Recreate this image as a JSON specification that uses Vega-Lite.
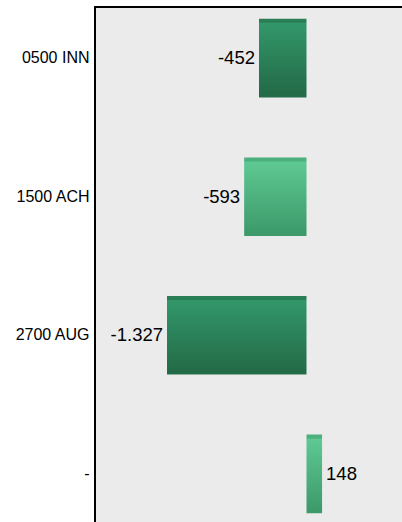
{
  "$schema": "https://vega.github.io/schema/vega-lite/v6.json",
  "autosize": {"type": "none"},
  "padding": {"left": 95, "top": 7, "right": 0, "bottom": 0},
  "width": 310,
  "height": 518,
  "background": "white",
  "config": {
    "font": "Liberation Sans",
    "view": {"fill": "#ebebeb", "stroke": "black", "strokeWidth": 2},
    "locale": {"number": {"decimal": ",", "thousands": ".", "grouping": [3], "currency": ["", " €"], "minus": "-"}}
  },
  "data": {"values": [
    {"label": "0500 INN", "value": -452},
    {"label": "1500 ACH", "value": -593},
    {"label": "2700 AUG", "value": -1327},
    {"label": "-", "value": 148}
  ]},
  "encoding": {
    "y": {"field": "label", "type": "nominal", "sort": null,
      "scale": {"domain": ["0500 INN", "1500 ACH", "2700 AUG", "-"], "paddingInner": 0.433, "paddingOuter": 0.085},
      "axis": {"title": null, "ticks": false, "domain": false, "labelFontSize": 16, "labelColor": "black", "labelPadding": 6, "labelFont": "Liberation Sans"}},
    "x": {"field": "value", "type": "quantitative",
      "scale": {"domain": [-2012, 937], "nice": false, "zero": false},
      "axis": null}
  },
  "layer": [
    {"transform": [{"filter": "datum.label === '0500 INN' || datum.label === '2700 AUG'"}],
     "mark": {"type": "bar",
       "color": {"gradient": "linear", "x1": 0, "y1": 0, "x2": 0, "y2": 1,
         "stops": [{"offset": 0, "color": "#2a7e55"}, {"offset": 0.045, "color": "#2a7e55"}, {"offset": 0.055, "color": "#32976a"}, {"offset": 0.97, "color": "#236a47"}, {"offset": 1, "color": "#276f4b"}]}},
     "encoding": {"x2": {"datum": 0}}},
    {"transform": [{"filter": "datum.label === '1500 ACH' || datum.label === '-'"}],
     "mark": {"type": "bar",
       "color": {"gradient": "linear", "x1": 0, "y1": 0, "x2": 0, "y2": 1,
         "stops": [{"offset": 0, "color": "#4caf7e"}, {"offset": 0.045, "color": "#4caf7e"}, {"offset": 0.06, "color": "#5ec892"}, {"offset": 0.97, "color": "#3c9a6a"}, {"offset": 1, "color": "#3f9d6c"}]}},
     "encoding": {"x2": {"datum": 0}}},
    {"transform": [{"filter": "datum.value < 0"}],
     "mark": {"type": "text", "align": "right", "dx": -4, "fontSize": 18.5, "color": "black", "baseline": "middle"},
     "encoding": {"text": {"field": "value", "type": "quantitative", "format": ",d"}}},
    {"transform": [{"filter": "datum.value >= 0"}],
     "mark": {"type": "text", "align": "left", "dx": 4, "fontSize": 18.5, "color": "black", "baseline": "middle"},
     "encoding": {"text": {"field": "value", "type": "quantitative", "format": ",d"}}}
  ]
}
